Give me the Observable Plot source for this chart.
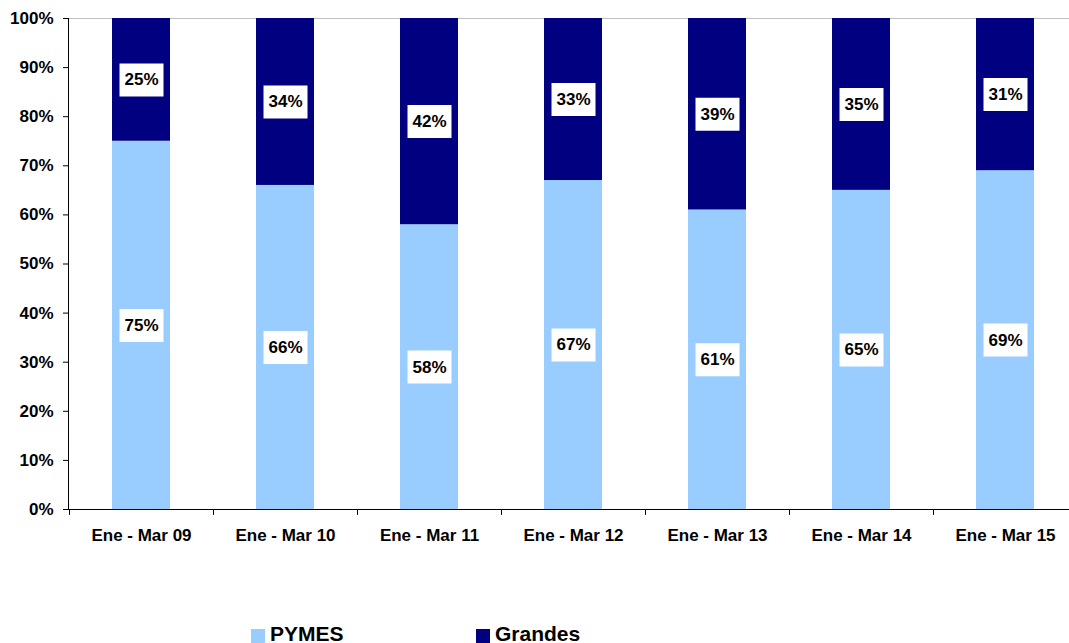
<!DOCTYPE html>
<html>
<head>
<meta charset="utf-8">
<script src="https://cdn.jsdelivr.net/npm/d3@7"></script>
<script src="https://cdn.jsdelivr.net/npm/@observablehq/plot@0.6"></script>
<style>
  html, body { margin: 0; padding: 0; background: #fff; }
  body { width: 1069px; height: 643px; overflow: hidden; font-family: "Liberation Sans", Arial, sans-serif; }
  #legend { position: relative; width: 1069px; height: 43px; }
  .sw { position: absolute; width: 14px; height: 14px; top: 29px; }
  .lt { position: absolute; top: 26px; font-size: 21px; font-weight: bold; line-height: 0.8; color: #000; white-space: nowrap; }
</style>
</head>
<body>
<div id="chart"></div>
<div id="legend"></div>
<script>
const categories = ["Ene - Mar 09", "Ene - Mar 10", "Ene - Mar 11", "Ene - Mar 12", "Ene - Mar 13", "Ene - Mar 14", "Ene - Mar 15"];
const pymes = [75, 66, 58, 67, 61, 65, 69];
const grandes = [25, 34, 42, 33, 39, 35, 31];
const seriesNames = ["PYMES", "Grandes"];
const seriesColors = ["#99CCFF", "#000080"];
const yTicks = [0, 10, 20, 30, 40, 50, 60, 70, 80, 90, 100];

const data = categories.flatMap((c, i) => [
  {cat: c, serie: "PYMES", value: pymes[i], mid: pymes[i] / 2},
  {cat: c, serie: "Grandes", value: grandes[i], mid: pymes[i] + grandes[i] / 2}
]);

const boxSymbol = {draw(ctx) { ctx.rect(-22, -16.5, 44, 33); }};

const chart = Plot.plot({
  width: 1069,
  height: 600,
  marginLeft: 68,
  marginRight: 0,
  marginTop: 18,
  marginBottom: 91,
  style: {fontFamily: "'Liberation Sans', Arial, sans-serif", color: "#000", background: "#fff"},
  x: {domain: categories, range: [68, 1077], paddingInner: 0.6, paddingOuter: 0.3, label: null},
  y: {domain: [0, 100], label: null},
  color: {domain: seriesNames, range: seriesColors},
  marks: [
    Plot.ruleY([100], {stroke: "#c0c0c0", strokeWidth: 1}),
    Plot.barY(data, {x: "cat", y: "value", fill: "serie", order: seriesNames}),
    Plot.dot(data, {x: "cat", y: "mid", symbol: boxSymbol, fill: "white", stroke: null, r: 5}),
    Plot.text(data, {x: "cat", y: "mid", text: d => d.value + "%", fontSize: 17, fontWeight: "bold", fill: "#000"}),
    Plot.ruleY([0], {stroke: "#000"}),
    Plot.frame({anchor: "left", stroke: "#000"}),
    Plot.ruleX(categories, {x: d => d, y1: 0, y2: -1.2, dx: -72, stroke: "#000"}),
    Plot.axisY({ticks: yTicks, tickFormat: d => d + "%", tickSize: 5, tickPadding: 10, fontSize: 17, fontWeight: "bold", fill: "#000", stroke: "#000", label: null}),
    Plot.axisX({tickSize: 0, tickPadding: 19, fontSize: 17, fontWeight: "bold", fill: "#000", label: null})
  ]
});
document.getElementById("chart").appendChild(chart);

const legend = document.getElementById("legend");
const legendPos = [{sw: 251, tx: 270}, {sw: 476, tx: 495}];
seriesNames.forEach((name, i) => {
  const s = document.createElement("div");
  s.className = "sw";
  s.style.left = legendPos[i].sw + "px";
  s.style.background = seriesColors[i];
  legend.appendChild(s);
  const t = document.createElement("div");
  t.className = "lt";
  t.style.left = legendPos[i].tx + "px";
  t.textContent = name;
  legend.appendChild(t);
});
</script>
</body>
</html>
